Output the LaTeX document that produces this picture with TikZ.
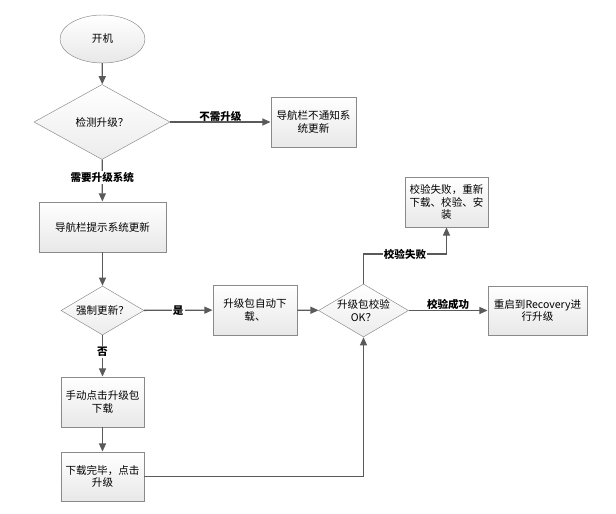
\documentclass[tikz,border=0pt]{standalone}
\usepackage{fontspec}
\setmainfont{Noto Sans CJK SC}
\usetikzlibrary{shapes,arrows.meta,positioning,calc}
\definecolor{linegray}{HTML}{5A5A5A}
\definecolor{edgegray}{HTML}{8A8A8A}

\begin{document}
\begin{tikzpicture}[x=0.03cm, y=-0.03cm,
    every node/.style={font=\fontsize{9pt}{11pt}\selectfont},
    box/.style={draw=edgegray, thick, top color=white, bottom color=gray!18, align=center, inner sep=1pt},
    dec/.style={draw=edgegray, diamond, aspect=1.7, top color=white, bottom color=gray!15, align=center, inner sep=0pt},
    flow/.style={-{Triangle[length=7pt,width=6pt]}, draw=linegray, line width=1.1pt},
    lab/.style={font=\fontsize{9pt}{11pt}\selectfont\bfseries, inner sep=1pt}]
    \useasboundingbox (0,0) rectangle (616,514);
    % start
    \node[draw=edgegray, ellipse, top color=white, bottom color=gray!18, minimum width=2.55cm, minimum height=1.44cm] (start) at (102.5,39) {开机};
    \node[dec, minimum width=4.08cm, minimum height=2.25cm] (check) at (102,122) {检测升级？};
    \node[box, minimum width=2.55cm, minimum height=1.5cm] (nonotify) at (313.5,122) {导航栏不通知系\\统更新};
    \node[box, minimum width=3.81cm, minimum height=1.5cm] (notify) at (102.5,227) {导航栏提示系统更新};
    \node[dec, minimum width=2.49cm, minimum height=1.47cm] (force) at (102.5,310.5) {强制更新？};
    \node[box, minimum width=2.52cm, minimum height=1.5cm] (auto) at (255,310) {升级包自动下\\载、};
    \node[box, minimum width=2.49cm, minimum height=1.5cm] (manual) at (102.5,402) {手动点击升级包\\下载};
    \node[box, minimum width=2.49cm, minimum height=1.47cm] (done) at (102.5,476.5) {下载完毕，点击\\升级};
    \node[dec, minimum width=2.43cm, minimum height=1.47cm] (verify) at (363.5,310.5) {升级包校验\\OK？};
    \node[box, minimum width=2.97cm, minimum height=1.47cm] (reboot) at (537.5,310.5) {重启到Recovery进\\行升级};
    \node[box, minimum width=2.49cm, minimum height=1.5cm] (retry) at (446.5,202) {校验失败，重新\\下载、校验、安\\装};
    \coordinate (bend) at (363.5,254);
    % connectors
    \draw[flow] (start) -- (check);
    \draw[flow] (check) -- (nonotify) node[lab, midway, above=-1pt] {不需升级};
    \draw[flow] (check) -- (notify) node[lab, pos=0.43, fill=white] {需要升级系统};
    \draw[flow] (notify) -- (force);
    \draw[flow] (force) -- (auto) node[lab, pos=0.5, fill=white] {是};
    \draw[flow] (force) -- (manual) node[lab, pos=0.4, fill=white] {否};
    \draw[flow] (manual) -- (done);
    \draw[flow] (done.east) -| (verify.south);
    \draw[flow] (auto) -- (verify);
    \draw[flow] (verify) -- (reboot) node[lab, midway, above=-1pt] {校验成功};
    \draw[flow] (verify.north) -- (bend) -| (retry.south) node[lab, pos=0.25, fill=white] {校验失败};
\end{tikzpicture}
\end{document}
